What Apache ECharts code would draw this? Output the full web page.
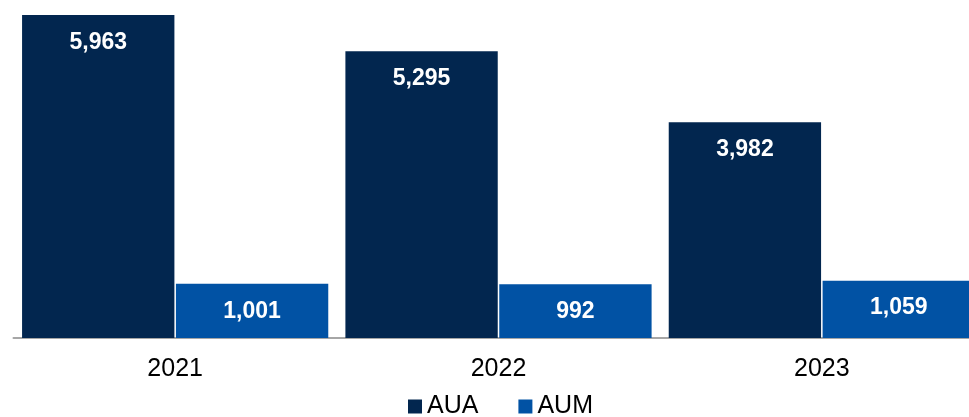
<!DOCTYPE html>
<html>
<head>
<meta charset="utf-8">
<script src="https://cdn.jsdelivr.net/npm/echarts@6/dist/echarts.min.js"></script>
<style>
  html, body { margin: 0; padding: 0; background: #ffffff; overflow: hidden; }
  /* the canvas is a bit wider than the page so the last bar runs off the right edge */
  #chart { width: 984px; height: 417px; }
</style>
</head>
<body>
<div id="chart"></div>
<script>
// Assets by year (AUA = assets under administration, AUM = assets under management)
const categories = ['2021', '2022', '2023'];
const auaValues = [5963, 5295, 3982];
const aumValues = [1001, 992, 1059];
const seriesNames = ['AUA', 'AUM'];

const FONT = '"Liberation Sans", Arial, sans-serif';
const fmt = v => v.toLocaleString('en-US');

const valueLabel = {
  show: true,
  position: 'insideTop',
  distance: 16,
  color: '#ffffff',
  fontFamily: FONT,
  fontWeight: 'bold',
  fontSize: 23,
  formatter: p => fmt(p.value)
};

const chart = echarts.init(document.getElementById('chart'), null, { renderer: 'canvas' });
chart.setOption({
  animation: false,
  backgroundColor: '#ffffff',
  grid: { left: 13.5, right: 0.5, top: 13, bottom: 79, containLabel: false },
  legend: {
    data: seriesNames,
    left: 408,
    top: 394,
    padding: 0,
    icon: 'rect',
    itemWidth: 14,
    itemHeight: 14,
    itemGap: 40,
    textStyle: { fontFamily: FONT, fontSize: 25, color: '#000000' }
  },
  xAxis: {
    type: 'category',
    data: categories,
    axisLine: { show: true, lineStyle: { color: '#a6a6a6', width: 2 } },
    axisTick: { show: false },
    axisLabel: { margin: 19, fontFamily: FONT, fontSize: 25, color: '#000000' }
  },
  yAxis: {
    type: 'value',
    min: 0,
    max: 6000,
    show: false,
    splitLine: { show: false }
  },
  series: [
    {
      name: seriesNames[0],
      type: 'bar',
      data: auaValues,
      itemStyle: { color: '#02264f' },
      barGap: '1%',
      barCategoryGap: '5.3%',
      label: valueLabel
    },
    {
      name: seriesNames[1],
      type: 'bar',
      data: aumValues,
      itemStyle: { color: '#0152a4' },
      barGap: '1%',
      barCategoryGap: '5.3%',
      label: valueLabel
    }
  ]
});
</script>
</body>
</html>
